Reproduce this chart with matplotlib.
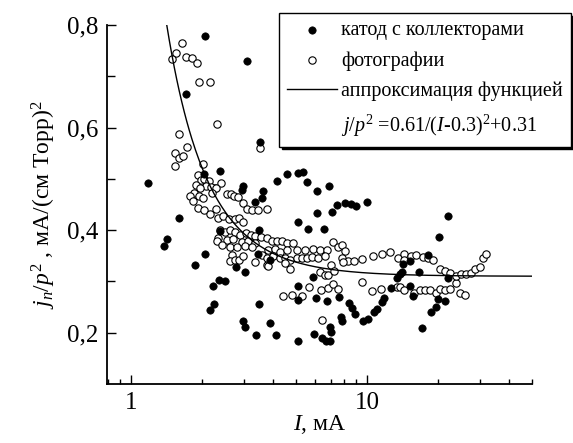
import numpy as np
import matplotlib
matplotlib.use("Agg")
import matplotlib.pyplot as plt
from matplotlib.ticker import FixedLocator, FuncFormatter, NullFormatter, LogLocator

plt.rcParams['font.family'] = ['Liberation Serif', 'DejaVu Serif']
plt.rcParams['mathtext.fontset'] = 'custom'
plt.rcParams['mathtext.rm'] = 'Liberation Serif'
plt.rcParams['mathtext.it'] = 'Liberation Serif:italic'

# cathode with collectors (filled)
cath_I = [1.18, 1.71, 2.06, 3.09, 3.52, 2.04, 2.38, 2.94, 2.97, 3.35, 3.61, 3.59, 4.14, 4.58,
          5.08, 5.34, 5.55, 6.11, 6.90, 6.14, 7.11, 7.47, 8.03, 8.51, 8.94, 10.0, 5.10, 5.61,
          6.59, 1.60, 1.42, 1.38, 2.05, 1.86, 2.37, 3.50, 3.45, 2.79, 3.04, 2.35, 2.50, 2.23,
          2.25, 2.16, 3.50, 2.99, 3.05, 3.39, 3.88, 4.10, 3.88, 5.89, 5.09, 5.12, 6.08, 6.79,
          7.61, 8.39, 8.62, 8.90, 7.76, 7.86, 6.97, 7.04, 6.99, 5.09, 5.98, 6.47, 6.71, 9.65,
          10.07, 10.74, 10.99, 11.54, 11.84, 12.64, 13.36, 13.80, 14.07, 14.25, 15.21, 16.61,
          15.21, 15.62, 18.19, 20.25, 22.11, 22.11, 19.94, 21.41, 19.61, 18.62, 17.05]
cath_j = [0.492, 0.666, 0.779, 0.730, 0.572, 0.509, 0.515, 0.479, 0.486, 0.455, 0.476, 0.463,
          0.496, 0.510, 0.512, 0.513, 0.494, 0.476, 0.487, 0.434, 0.436, 0.449, 0.453, 0.450,
          0.448, 0.455, 0.415, 0.402, 0.403, 0.424, 0.383, 0.370, 0.354, 0.332, 0.399, 0.401,
          0.354, 0.329, 0.318, 0.303, 0.300, 0.291, 0.256, 0.244, 0.256, 0.222, 0.212, 0.195,
          0.219, 0.195, 0.342, 0.308, 0.292, 0.264, 0.268, 0.262, 0.269, 0.258, 0.248, 0.236,
          0.230, 0.222, 0.212, 0.201, 0.184, 0.183, 0.197, 0.190, 0.183, 0.222, 0.227, 0.241,
          0.246, 0.260, 0.268, 0.287, 0.306, 0.314, 0.319, 0.334, 0.340, 0.319, 0.291, 0.271,
          0.351, 0.386, 0.428, 0.306, 0.266, 0.261, 0.251, 0.240, 0.209]

# photographs (open)
photo_I = [1.637, 1.551, 1.484, 1.702, 1.816, 1.898, 1.947, 2.151, 2.303, 1.597, 1.730, 1.529,
           1.597, 1.666, 1.541, 3.521, 2.009, 1.917, 1.970, 2.039, 2.147, 2.406, 2.270, 1.885,
           2.078, 2.176, 1.961, 2.292, 1.849, 1.778, 1.831, 1.932, 2.025, 2.198, 1.928, 2.029,
           2.168, 2.299, 2.539, 2.640, 2.732, 2.849, 2.983, 3.101, 3.256, 3.436, 3.758, 2.326,
           2.461, 2.602, 2.745, 2.868, 2.968, 2.383, 2.502, 2.628, 2.759, 2.897, 3.071, 3.209,
           3.354, 3.545, 3.758, 3.947, 4.145, 4.350, 4.568, 4.844, 2.344, 2.544, 2.713, 2.945,
           3.141, 3.354, 2.321, 2.423, 2.628, 2.805, 3.041, 3.247, 2.671, 2.628, 2.759, 2.877,
           2.974, 3.354, 3.579, 3.758, 3.818, 4.076, 4.279, 4.568, 5.036, 5.462, 5.924, 6.322,
           6.751, 7.198, 7.499, 7.813, 8.030, 3.758, 4.009, 4.279, 4.493, 4.718, 5.036, 5.288,
           5.553, 5.832, 6.218, 6.639, 7.813, 8.332, 8.835, 9.495, 10.55, 11.58, 12.52, 13.53,
           14.35, 14.35, 15.37, 16.13, 17.24, 18.19, 19.10, 3.818, 4.493, 4.718, 6.322, 6.639,
           6.855, 7.018, 7.889, 7.268, 9.495, 4.419, 4.797, 5.288, 5.679, 6.384, 6.855, 7.198,
           7.513, 6.466, 10.47, 11.47, 13.36, 13.80, 14.35, 15.77, 16.69, 17.61, 18.49, 19.51,
           20.39, 21.41, 22.54, 23.71, 24.78, 26.02, 20.29, 21.41, 22.47, 23.83, 25.10, 26.35,
           27.51, 28.77, 30.12, 30.93, 31.94]
photo_j = [0.765, 0.745, 0.734, 0.738, 0.736, 0.725, 0.688, 0.688, 0.606, 0.587, 0.563, 0.550,
           0.541, 0.545, 0.525, 0.561, 0.528, 0.508, 0.498, 0.499, 0.496, 0.491, 0.483, 0.488,
           0.487, 0.485, 0.482, 0.482, 0.473, 0.467, 0.457, 0.466, 0.462, 0.473, 0.444, 0.439,
           0.432, 0.442, 0.470, 0.471, 0.466, 0.465, 0.453, 0.442, 0.440, 0.439, 0.441, 0.423,
           0.427, 0.422, 0.421, 0.424, 0.416, 0.401, 0.397, 0.401, 0.397, 0.391, 0.395, 0.391,
           0.388, 0.386, 0.385, 0.378, 0.379, 0.378, 0.375, 0.375, 0.384, 0.381, 0.383, 0.376,
           0.378, 0.375, 0.378, 0.371, 0.368, 0.368, 0.369, 0.367, 0.352, 0.339, 0.342, 0.342,
           0.349, 0.338, 0.351, 0.332, 0.362, 0.364, 0.358, 0.362, 0.362, 0.362, 0.364, 0.362,
           0.362, 0.376, 0.367, 0.371, 0.360, 0.346, 0.349, 0.346, 0.346, 0.342, 0.346, 0.346,
           0.346, 0.347, 0.346, 0.349, 0.346, 0.339, 0.340, 0.344, 0.350, 0.353, 0.358, 0.346,
           0.354, 0.341, 0.350, 0.352, 0.348, 0.346, 0.342, 0.331, 0.336, 0.324, 0.318, 0.312,
           0.313, 0.332, 0.337, 0.321, 0.298, 0.272, 0.274, 0.271, 0.290, 0.284, 0.287, 0.295,
           0.286, 0.224, 0.281, 0.285, 0.289, 0.290, 0.283, 0.277, 0.284, 0.284, 0.284, 0.278,
           0.285, 0.284, 0.285, 0.297, 0.278, 0.274, 0.324, 0.321, 0.316, 0.311, 0.315, 0.314,
           0.317, 0.325, 0.329, 0.346, 0.353]

# approximation j/p^2 = A/(I - I0)^2 + B
fit_A, fit_I0, fit_B = 0.61, 0.3, 0.31

labels = ["катод с коллекторами", "фотографии", "аппроксимация функцией",
          r"$j/p^2$ =0.61/($I$-0.3)$^2$+0.31"]

fig = plt.figure(figsize=(5.73, 4.43), dpi=100)
ax = fig.add_axes([0.1867, 0.1332, 0.7417, 0.8104])

h1 = ax.scatter(cath_I, cath_j, s=28, c='black', edgecolors='black', linewidths=0.5, zorder=3)
h2 = ax.scatter(photo_I, photo_j, s=28, facecolors='white', edgecolors='black', linewidths=0.8, zorder=2)

I_fit = np.logspace(np.log10(1.3), np.log10(50), 300)
h3, = ax.plot(I_fit, fit_A / (I_fit - fit_I0) ** 2 + fit_B, color='black', lw=1.0, zorder=4)

ax.set_xscale('log')
ax.set_xlim(0.79, 50)
ax.set_ylim(0.1, 0.8)

ax.xaxis.set_major_locator(FixedLocator([1, 10]))
ax.xaxis.set_major_formatter(FuncFormatter(lambda v, p: f"{v:g}"))
ax.xaxis.set_minor_locator(LogLocator(base=10, subs=np.arange(2, 10)))
ax.xaxis.set_minor_formatter(NullFormatter())
ax.yaxis.set_major_locator(FixedLocator([0.2, 0.4, 0.6, 0.8]))
ax.yaxis.set_major_formatter(FuncFormatter(lambda v, p: f"{v:.1f}".replace('.', ',')))
ax.yaxis.set_minor_locator(FixedLocator([0.3, 0.5, 0.7]))

for s in ['top', 'right']:
    ax.spines[s].set_visible(False)
for s in ['left', 'bottom']:
    ax.spines[s].set_linewidth(1.3)

ax.tick_params(axis='both', which='major', direction='in', length=6.5, width=1.0, labelsize=18, pad=6)
ax.tick_params(axis='x', which='minor', direction='in', length=3.5, width=1.0)
ax.tick_params(axis='y', which='minor', direction='in', length=6.0, width=1.0)

ax.set_xlabel(r"$I$, мА", fontsize=17, labelpad=-1)
ax.set_ylabel(r"$j_n/p^2$ , мА/(см Торр)$^2$", fontsize=17, labelpad=7)

# empty handle for the formula row
dummy, = ax.plot([], [], color='none')
leg = fig.legend([h1, h2, h3, dummy], labels,
                 loc='upper right', bbox_to_anchor=(0.9965, 0.9707),
                 fontsize=14.5, frameon=True, fancybox=False,
                 shadow={'color': 'black', 'alpha': 1.0},
                 edgecolor='black', handlelength=2.5, handletextpad=0.2,
                 borderaxespad=0, borderpad=0.4, labelspacing=0.55)
leg.get_frame().set_linewidth(1.0)

fig.savefig("out.png", dpi=100)
